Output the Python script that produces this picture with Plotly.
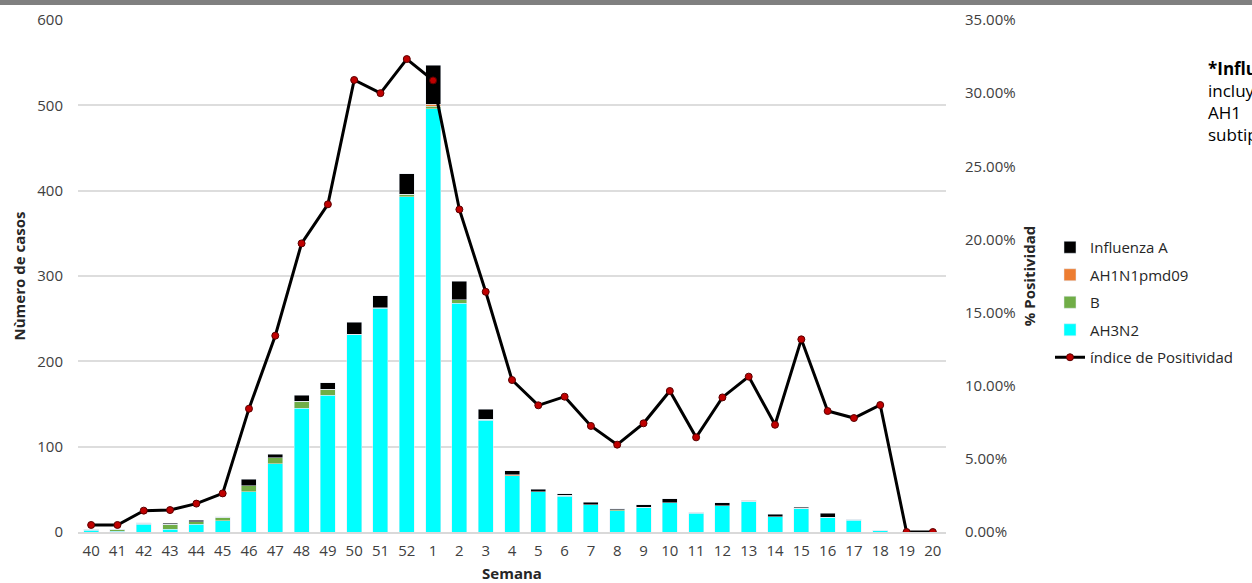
import plotly.graph_objects as go

semanas = ["40","41","42","43","44","45","46","47","48","49","50","51","52",
           "1","2","3","4","5","6","7","8","9","10","11","12","13","14","15",
           "16","17","18","19","20"]
ah3n2 = [2,1,9,3,9,13,47,80,145,160,231,262,393,496,268,131,66,47,42,32,25,29,34,22,31,36,18,27,17,14,2,0,0]
b_vals = [1,2,1,6,3,4,7,7,8,7,1,1,3,3,4,1,0,0,1,0,1,0,0,1,0,0,0,1,0,1,0,0,0]
ah1n1 = [0,0,0,0,0,0,0,0,0,0,0,0,0,2,0,0,1,0,0,0,0,0,0,0,0,1,0,0,0,0,0,0,0]
flu_a = [0,0,1,1,2,1,8,4,7,8,14,14,24,46,22,12,5,3,2,3,1,3,5,0,3,0,3,1,5,0,0,0,0]
positividad = [0.48,0.48,1.46,1.50,1.94,2.64,8.43,13.42,19.73,22.40,30.90,30.00,32.33,
               30.87,22.05,16.42,10.39,8.66,9.25,7.25,5.97,7.43,9.64,6.47,9.20,10.62,
               7.33,13.17,8.27,7.79,8.68,0.0,0.0]
positividad = [v/100 for v in positividad]

FONT = "Open Sans"
fig = go.Figure()
fig.add_trace(go.Bar(x=semanas, y=ah3n2, name="AH3N2", marker_color="#00FFFF",
                     legendrank=4, legendgroup="d"))
fig.add_trace(go.Bar(x=semanas, y=b_vals, name="B", marker_color="#70AD47",
                     legendrank=3, legendgroup="c"))
fig.add_trace(go.Bar(x=semanas, y=ah1n1, name="AH1N1pmd09", marker_color="#ED7D31",
                     legendrank=2, legendgroup="b"))
fig.add_trace(go.Bar(x=semanas, y=flu_a, name="Influenza A", marker_color="#000000",
                     legendrank=1, legendgroup="a"))
fig.add_trace(go.Scatter(x=semanas, y=positividad, name="índice de Positividad", yaxis="y2",
                         mode="lines+markers", line=dict(color="#000000", width=3),
                         marker=dict(color="#C00000", size=7, line=dict(color="#5a0000", width=1)),
                         legendrank=5, legendgroup="e"))

fig.update_layout(
    width=1252, height=583,
    barmode="stack", bargap=0.43,
    plot_bgcolor="white", paper_bgcolor="white",
    margin=dict(l=78, r=306, t=20, b=51),
    font=dict(family=FONT, size=15, color="#404040"),
    xaxis=dict(type="category", range=[-0.5, len(semanas) - 0.5], automargin=False,
               showgrid=False, showline=True, linecolor="#d9d9d9",
               linewidth=2, ticks="outside", ticklen=4, tickcolor="rgba(0,0,0,0)",
               tickfont=dict(size=15, color="#404040"),
               title=dict(text="<b>Semana</b>", font=dict(size=15, color="#262626"), standoff=11)),
    yaxis=dict(range=[0, 600], dtick=100, showgrid=True, gridcolor="#dddddd", gridwidth=1.5,
               automargin=False, zeroline=False, showline=False,
               tickfont=dict(size=15, color="#404040"),
               ticks="outside", ticklen=11, tickcolor="rgba(0,0,0,0)",
               title=dict(text="<b>Nùmero de casos</b>", font=dict(size=15, color="#262626"), standoff=8)),
    yaxis2=dict(range=[0, 0.35], dtick=0.05, tickformat=".2%", overlaying="y", side="right",
                automargin=False, showgrid=False, zeroline=False, showline=False,
                ticks="outside", ticklen=15, tickcolor="rgba(0,0,0,0)",
                tickfont=dict(size=15, color="#404040"),
                title=dict(text="<b>% Positividad</b>", font=dict(size=15, color="#262626"), standoff=9)),
    legend=dict(x=(1050-78)/868, y=(532-231)/512, xanchor="left", yanchor="top",
                bgcolor="rgba(0,0,0,0)",
                font=dict(size=15, color="#262626"), tracegroupgap=5, itemwidth=30),
    shapes=[dict(type="rect", xref="paper", yref="paper", x0=-0.1, x1=1.4,
                 y0=1 + 15/512, y1=1 + 21/512, fillcolor="#808080", line=dict(width=0), layer="above")],
    annotations=[dict(xref="paper", yref="paper", x=(1206-78)/868, y=(532-55)/512,
                      xanchor="left", yanchor="top", align="left", showarrow=False,
                      text="<b>*Influenza A</b><br>incluye<br>AH1       no<br>subtipificable",
                      font=dict(size=17, color="#000000", family=FONT))],
)

fig.write_html("out.html", config={"displayModeBar": False},
               post_script="document.body.style.margin='0';")
